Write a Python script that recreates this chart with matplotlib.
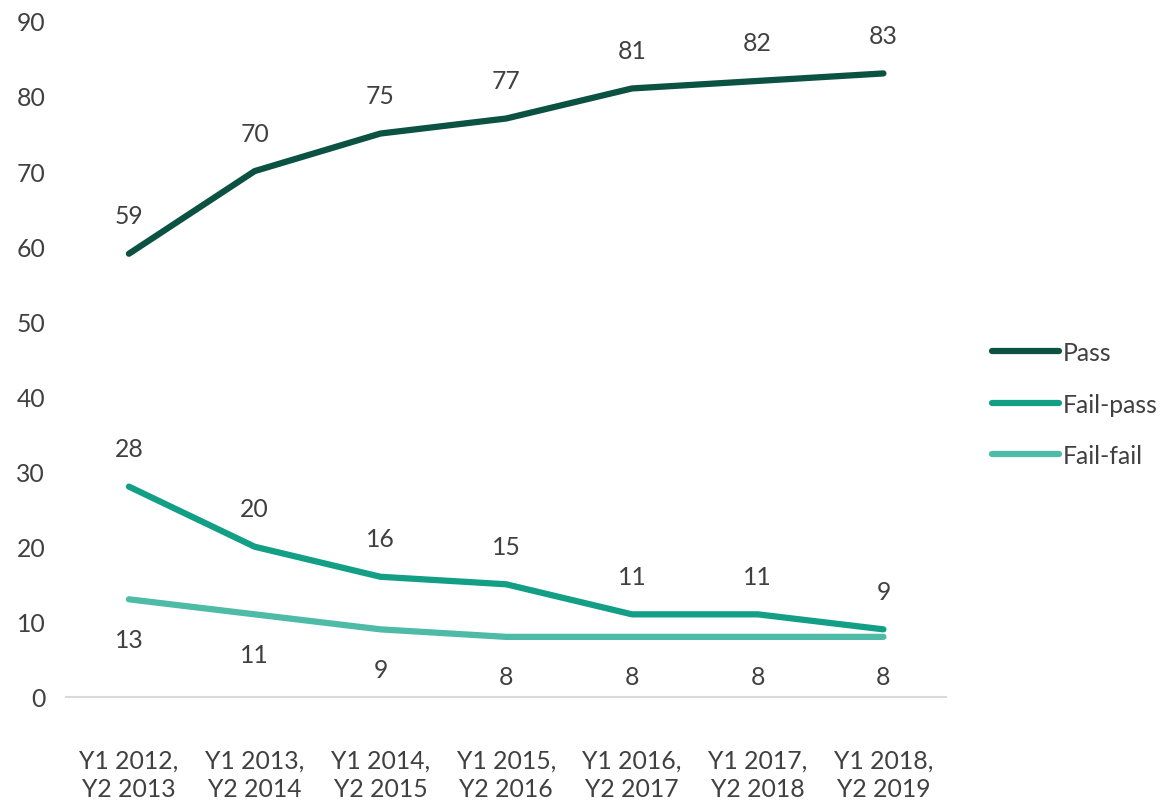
import matplotlib
matplotlib.use("Agg")
import matplotlib.pyplot as plt

plt.rcParams['font.family'] = ['Lato', 'DejaVu Sans']

cohorts = ['Y1 2012,\nY2 2013', 'Y1 2013,\nY2 2014', 'Y1 2014,\nY2 2015',
           'Y1 2015,\nY2 2016', 'Y1 2016,\nY2 2017', 'Y1 2017,\nY2 2018',
           'Y1 2018,\nY2 2019']
pass_pct = [59, 70, 75, 77, 81, 82, 83]
fail_pass = [28, 20, 16, 15, 11, 11, 9]
fail_fail = [13, 11, 9, 8, 8, 8, 8]

series = [
    ('Pass', pass_pct, '#0b5242', 38),
    ('Fail-pass', fail_pass, '#139f85', 38),
    ('Fail-fail', fail_fail, '#4dbba5', -40),
]

FS = 17.8

fig = plt.figure(figsize=(11.69, 8.03), dpi=100)
ax = fig.add_axes([0.0565, 0.1308, 0.753, 0.842])

x = list(range(len(cohorts)))
for name, vals, col, off in series:
    ax.plot(x, vals, color=col, lw=4.5, solid_capstyle='round',
            solid_joinstyle='round', label=name)
    for xi, v in zip(x, vals):
        ax.annotate(str(v), (xi, v), xytext=(0, off), textcoords='offset pixels',
                    ha='center', va='center', fontsize=FS, color='#404040')

ax.set_xlim(-0.5, len(cohorts) - 0.5)
ax.set_ylim(0, 90)
ax.set_yticks(range(0, 91, 10))
ax.set_xticks(x)
ax.set_xticklabels(cohorts, fontsize=FS, color='#404040', linespacing=1.3)
ax.tick_params(axis='y', labelsize=FS, labelcolor='#404040', length=0, pad=15)
ax.tick_params(axis='x', length=0, pad=37)
for s in ['top', 'right', 'left']:
    ax.spines[s].set_visible(False)
ax.spines['bottom'].set_color('#d9d9d9')
ax.spines['bottom'].set_linewidth(1.5)

leg = fig.legend(loc='center left', bbox_to_anchor=(0.849, 0.4956), frameon=False,
                 fontsize=FS, labelspacing=1.15, handlelength=2.7, handletextpad=0.15,
                 borderpad=0, borderaxespad=0, labelcolor='#404040')

fig.savefig('out.png', dpi=100)
